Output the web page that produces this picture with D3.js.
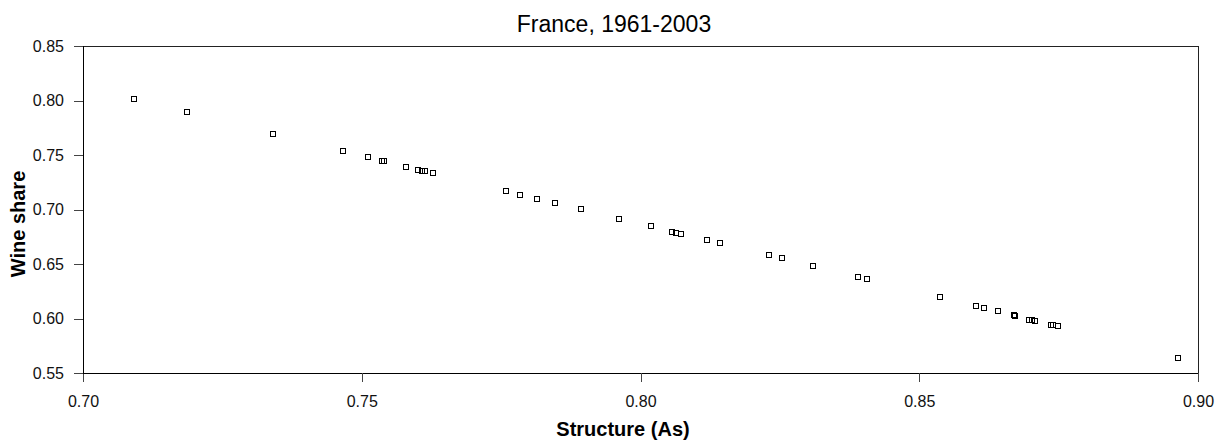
<!DOCTYPE html>
<html>
<head>
<meta charset="utf-8">
<script src="https://cdn.jsdelivr.net/npm/d3@7"></script>
<style>
  body { margin: 0; background: #fff; }
  svg { display: block; font-family: "Liberation Sans", Arial, sans-serif; }
</style>
</head>
<body>
<svg id="chart" width="1223" height="441"></svg>
<script>
const width = 1223;
const height = 441;
const margin = {top: 46, right: 25, bottom: 68, left: 83};

// Structure (As) vs wine share, France 1961-2003
const structure = [
  0.7091, 0.7186, 0.7341, 0.7466, 0.7511, 0.7536, 0.7540, 0.7579, 0.7600, 0.7608,
  0.7613, 0.7627, 0.7758, 0.7784, 0.7814, 0.7847, 0.7893, 0.7961, 0.8018, 0.8056,
  0.8063, 0.8073, 0.8120, 0.8143, 0.8230, 0.8253, 0.8310, 0.8391, 0.8407, 0.8537,
  0.8602, 0.8617, 0.8641, 0.8670, 0.8672, 0.8697, 0.8702, 0.8708, 0.8736, 0.8740,
  0.8749, 0.8965
];
const wineShare = [
  0.8014, 0.7897, 0.7693, 0.7537, 0.7479, 0.7442, 0.7442, 0.7393, 0.7362, 0.7356,
  0.7350, 0.7332, 0.7170, 0.7136, 0.7099, 0.7060, 0.7002, 0.6916, 0.6849, 0.6796,
  0.6787, 0.6778, 0.6723, 0.6693, 0.6585, 0.6555, 0.6485, 0.6381, 0.6365, 0.6200,
  0.6118, 0.6100, 0.6066, 0.6028, 0.6026, 0.5983, 0.5983, 0.5977, 0.5943, 0.5943,
  0.5934, 0.5638
];
const xTicks = [0.70, 0.75, 0.80, 0.85, 0.90];
const yTicks = [0.55, 0.60, 0.65, 0.70, 0.75, 0.80, 0.85];

const points = structure.map((d, i) => ({x: d, y: wineShare[i]}));

const svg = d3.select("#chart");

const x = d3.scaleLinear()
  .domain([0.70, 0.90])
  .range([margin.left, width - margin.right]);

const y = d3.scaleLinear()
  .domain([0.55, 0.85])
  .range([height - margin.bottom, margin.top]);

// frame
svg.append("rect")
  .attr("x", margin.left)
  .attr("y", margin.top)
  .attr("width", width - margin.left - margin.right)
  .attr("height", height - margin.top - margin.bottom)
  .attr("fill", "none")
  .attr("stroke", "#222")
  .attr("shape-rendering", "crispEdges");

const xAxis = svg.append("g")
  .attr("transform", `translate(0,${height - margin.bottom})`)
  .call(d3.axisBottom(x).tickValues(xTicks).tickFormat(d3.format(".2f")).tickSize(9).tickPadding(14));

const yAxis = svg.append("g")
  .attr("transform", `translate(${margin.left},0)`)
  .call(d3.axisLeft(y).tickValues(yTicks).tickFormat(d3.format(".2f")).tickSize(9).tickPadding(10));

[xAxis, yAxis].forEach(g => {
  g.select(".domain").attr("stroke", "#000").attr("shape-rendering", "crispEdges");
  g.selectAll(".tick line").attr("stroke", "#444").attr("shape-rendering", "crispEdges");
  g.selectAll(".tick text")
    .attr("fill", "#111")
    .style("font-size", "16px")
    .style("font-family", "Liberation Sans, Arial, sans-serif");
});

// markers
const size = 6;
svg.append("g")
  .selectAll("rect")
  .data(points)
  .join("rect")
    .attr("x", d => Math.round(x(d.x) - size / 2) + 0.5)
    .attr("y", d => Math.round(y(d.y) - size / 2) + 0.5)
    .attr("width", size - 1)
    .attr("height", size - 1)
    .attr("fill", "none")
    .attr("stroke", "#000")
    .attr("stroke-width", 1);

// title
svg.append("text")
  .attr("x", 614)
  .attr("y", 32)
  .attr("text-anchor", "middle")
  .style("font-size", "23px")
  .attr("fill", "#000")
  .text("France, 1961-2003");

svg.append("text")
  .attr("x", 623)
  .attr("y", 436)
  .attr("text-anchor", "middle")
  .style("font-size", "20px")
  .style("font-weight", "bold")
  .text("Structure (As)");

svg.append("text")
  .attr("transform", "translate(25,224) rotate(-90)")
  .attr("text-anchor", "middle")
  .style("font-size", "20px")
  .style("font-weight", "bold")
  .text("Wine share");
</script>
</body>
</html>
